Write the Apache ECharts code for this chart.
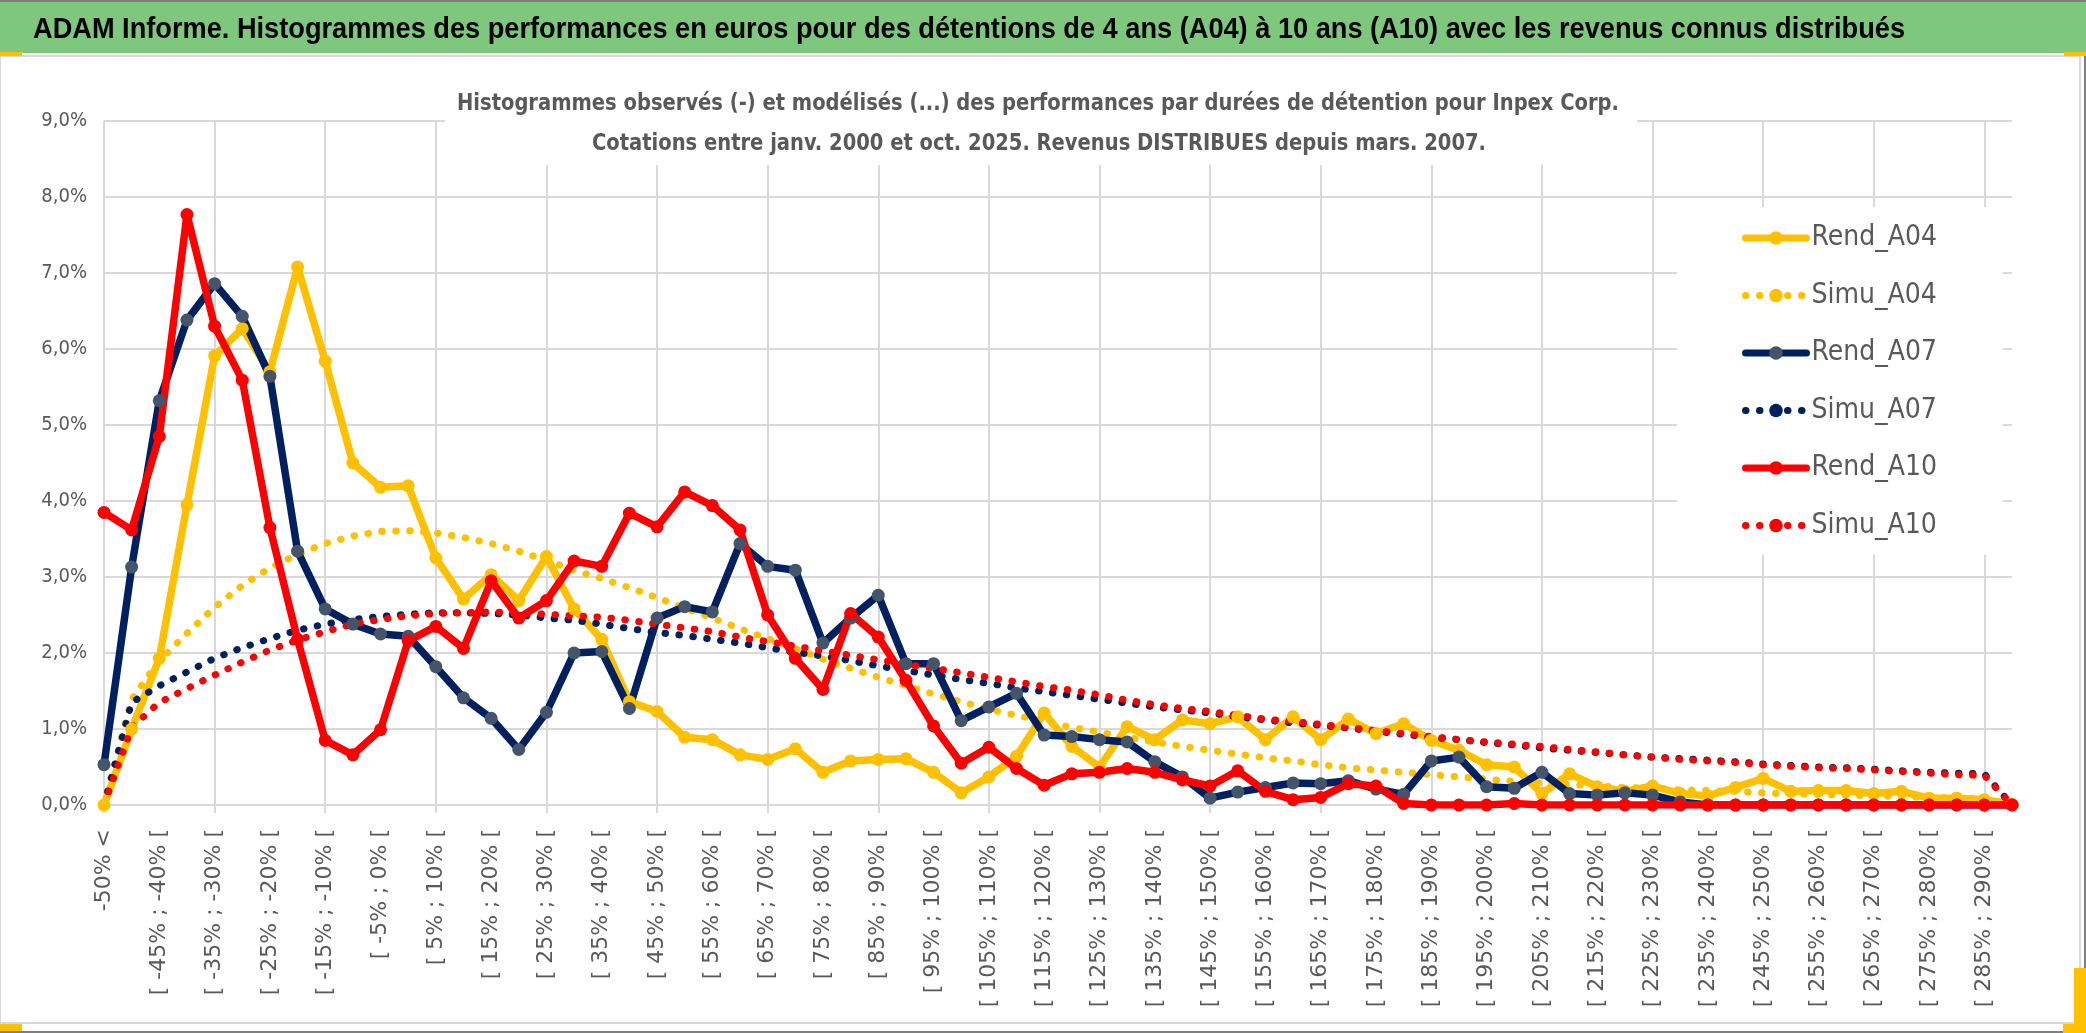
<!DOCTYPE html>
<html>
<head>
<meta charset="utf-8">
<script src="https://cdn.jsdelivr.net/npm/echarts@6/dist/echarts.min.js"></script>
<style>
html,body{margin:0;padding:0;background:#fff;}
#c{width:2086px;height:1033px;}
</style>
</head>
<body>
<div id="c"></div>
<script>
const titleText = "ADAM Informe. Histogrammes des performances en euros pour des détentions de 4 ans (A04) à 10 ans (A10) avec les revenus connus distribués";
const subtitle1 = "Histogrammes observés (-) et modélisés (...) des performances par durées de détention pour Inpex Corp.";
const subtitle2 = "Cotations entre janv. 2000 et oct. 2025. Revenus DISTRIBUES depuis mars. 2007.";

const categories = [
  "-50% <", "[ -50% ; -45% [", "[ -45% ; -40% [", "[ -40% ; -35% [", "[ -35% ; -30% [", "[ -30% ; -25% [",
  "[ -25% ; -20% [", "[ -20% ; -15% [", "[ -15% ; -10% [", "[ -10% ; -5% [", "[ -5% ; 0% [",
  "[ 0% ; 5% [", "[ 5% ; 10% [", "[ 10% ; 15% [", "[ 15% ; 20% [", "[ 20% ; 25% [", "[ 25% ; 30% [",
  "[ 30% ; 35% [", "[ 35% ; 40% [", "[ 40% ; 45% [", "[ 45% ; 50% [", "[ 50% ; 55% [", "[ 55% ; 60% [",
  "[ 60% ; 65% [", "[ 65% ; 70% [", "[ 70% ; 75% [", "[ 75% ; 80% [", "[ 80% ; 85% [", "[ 85% ; 90% [",
  "[ 90% ; 95% [", "[ 95% ; 100% [", "[ 100% ; 105% [", "[ 105% ; 110% [", "[ 110% ; 115% [", "[ 115% ; 120% [",
  "[ 120% ; 125% [", "[ 125% ; 130% [", "[ 130% ; 135% [", "[ 135% ; 140% [", "[ 140% ; 145% [", "[ 145% ; 150% [",
  "[ 150% ; 155% [", "[ 155% ; 160% [", "[ 160% ; 165% [", "[ 165% ; 170% [", "[ 170% ; 175% [", "[ 175% ; 180% [",
  "[ 180% ; 185% [", "[ 185% ; 190% [", "[ 190% ; 195% [", "[ 195% ; 200% [", "[ 200% ; 205% [", "[ 205% ; 210% [",
  "[ 210% ; 215% [", "[ 215% ; 220% [", "[ 220% ; 225% [", "[ 225% ; 230% [", "[ 230% ; 235% [", "[ 235% ; 240% [",
  "[ 240% ; 245% [", "[ 245% ; 250% [", "[ 250% ; 255% [", "[ 255% ; 260% [", "[ 260% ; 265% [", "[ 265% ; 270% [",
  "[ 270% ; 275% [", "[ 275% ; 280% [", "[ 280% ; 285% [", "[ 285% ; 290% [", "[ 290% ; 295% ["
];

// values in percent
const rendA04 = [
  0.00, 1.00, 1.93, 3.95, 5.91, 6.27, 5.70, 7.08, 5.84, 4.50,
  4.18, 4.20, 3.25, 2.71, 3.03, 2.69, 3.27, 2.58, 2.18, 1.36,
  1.23, 0.89, 0.86, 0.66, 0.60, 0.74, 0.43, 0.58, 0.60, 0.61,
  0.43, 0.16, 0.37, 0.64, 1.21, 0.77, 0.50, 1.03, 0.86, 1.12,
  1.07, 1.16, 0.86, 1.16, 0.86, 1.13, 0.94, 1.07, 0.85, 0.72,
  0.53, 0.50, 0.15, 0.41, 0.24, 0.18, 0.25, 0.15, 0.12, 0.23,
  0.35, 0.18, 0.19, 0.19, 0.15, 0.18, 0.09, 0.09, 0.07, 0.01
];
const simuA04 = [
  0.00, 1.39, 1.90, 2.26, 2.60, 2.89, 3.12, 3.30, 3.44, 3.54,
  3.60, 3.61, 3.58, 3.52, 3.44, 3.34, 3.22, 3.09, 2.98, 2.86,
  2.73, 2.59, 2.46, 2.32, 2.19, 2.06, 1.92, 1.80, 1.68, 1.57,
  1.46, 1.36, 1.26, 1.18, 1.10, 1.02, 0.96, 0.89, 0.83, 0.77,
  0.72, 0.67, 0.62, 0.58, 0.53, 0.49, 0.46, 0.43, 0.40, 0.37,
  0.34, 0.31, 0.29, 0.27, 0.25, 0.23, 0.22, 0.20, 0.19, 0.18,
  0.16, 0.15, 0.14, 0.13, 0.12, 0.11, 0.10, 0.09, 0.08, 0.00
];
const rendA07 = [
  0.53, 3.13, 5.32, 6.38, 6.86, 6.43, 5.64, 3.34, 2.58, 2.38,
  2.25, 2.22, 1.82, 1.41, 1.14, 0.73, 1.22, 2.00, 2.02, 1.27,
  2.46, 2.61, 2.54, 3.44, 3.14, 3.09, 2.13, 2.46, 2.76, 1.86,
  1.86, 1.11, 1.29, 1.47, 0.92, 0.90, 0.86, 0.83, 0.57, 0.37,
  0.09, 0.17, 0.23, 0.29, 0.28, 0.32, 0.21, 0.14, 0.58, 0.63,
  0.24, 0.22, 0.43, 0.15, 0.13, 0.16, 0.13, 0.04, 0.00, 0.00,
  0.00, 0.00, 0.00, 0.00, 0.00, 0.00, 0.00, 0.00, 0.00, 0.00
];
const simuA07 = [
  0.00, 1.35, 1.57, 1.75, 1.93, 2.07, 2.19, 2.30, 2.38, 2.44,
  2.48, 2.51, 2.53, 2.53, 2.52, 2.50, 2.46, 2.43, 2.38, 2.32,
  2.27, 2.23, 2.18, 2.13, 2.07, 2.01, 1.96, 1.90, 1.83, 1.77,
  1.71, 1.65, 1.60, 1.54, 1.49, 1.44, 1.39, 1.34, 1.29, 1.25,
  1.21, 1.16, 1.12, 1.08, 1.05, 1.01, 0.97, 0.93, 0.89, 0.86,
  0.82, 0.79, 0.75, 0.72, 0.69, 0.66, 0.63, 0.61, 0.59, 0.57,
  0.54, 0.52, 0.50, 0.49, 0.47, 0.45, 0.43, 0.42, 0.41, 0.00
];
const rendA10 = [
  3.85, 3.62, 4.85, 7.77, 6.30, 5.59, 3.65, 2.18, 0.85, 0.66,
  0.99, 2.16, 2.35, 2.06, 2.95, 2.46, 2.69, 3.21, 3.14, 3.84,
  3.66, 4.12, 3.94, 3.62, 2.50, 1.93, 1.52, 2.52, 2.21, 1.64,
  1.04, 0.55, 0.76, 0.48, 0.26, 0.41, 0.43, 0.48, 0.43, 0.33,
  0.25, 0.45, 0.18, 0.07, 0.10, 0.28, 0.25, 0.02, 0.00, 0.00,
  0.00, 0.02, 0.00, 0.00, 0.00, 0.00, 0.00, 0.00, 0.00, 0.00,
  0.00, 0.00, 0.00, 0.00, 0.00, 0.00, 0.00, 0.00, 0.00, 0.00
];
const simuA10 = [
  0.00, 1.02, 1.35, 1.53, 1.71, 1.88, 2.04, 2.17, 2.28, 2.38,
  2.44, 2.49, 2.52, 2.53, 2.54, 2.53, 2.51, 2.49, 2.47, 2.43,
  2.38, 2.33, 2.28, 2.21, 2.15, 2.09, 2.03, 1.97, 1.91, 1.85,
  1.80, 1.74, 1.68, 1.62, 1.56, 1.51, 1.45, 1.38, 1.32, 1.27,
  1.23, 1.18, 1.13, 1.10, 1.06, 1.02, 0.98, 0.94, 0.90, 0.86,
  0.83, 0.80, 0.77, 0.73, 0.70, 0.66, 0.63, 0.60, 0.58, 0.56,
  0.53, 0.51, 0.49, 0.48, 0.46, 0.44, 0.42, 0.40, 0.39, 0.00
];

const seriesNames = ["Rend_A04", "Simu_A04", "Rend_A07", "Simu_A07", "Rend_A10", "Simu_A10"];

const YELLOW = '#FFC000', NAVY = '#002060', RED = '#FF0000', NAVY_MK = '#44546A';
const GRID = '#d9d9d9', TXT = '#595959';
const NARROW = "'Liberation Sans Narrow', 'DejaVu Sans Condensed', 'Liberation Sans', sans-serif";
const SANS = "'Liberation Sans', Arial, sans-serif";

function measure(text, font) {
  const c = document.createElement('canvas').getContext('2d');
  c.font = font;
  return c.measureText(text).width;
}
const titleSize = 30;
const titleScale = 1872 / measure(titleText, 'bold ' + titleSize + 'px ' + SANS);
const subSize = 23;
const subScale = 1162 / measure(subtitle1, 'bold ' + subSize + 'px ' + NARROW);

function rend(name, data, color, markColor) {
  return {
    name, type: 'line', data,
    symbol: 'circle', symbolSize: 13, showSymbol: true, showAllSymbol: true,
    lineStyle: { color, width: 7.5, cap: 'round', join: 'round' },
    itemStyle: { color: markColor, borderWidth: 0 },
    emphasis: { disabled: true },
    z: 2
  };
}
function simu(name, data, color) {
  return {
    name, type: 'line', data,
    symbol: 'none', showSymbol: false,
    lineStyle: { color, width: 7, type: [0.5, 13.5], cap: 'round' },
    itemStyle: { color },
    emphasis: { disabled: true },
    z: 2
  };
}

const chart = echarts.init(document.getElementById('c'), null, { renderer: 'canvas' });
chart.setOption({
  animation: false,
  backgroundColor: '#fff',
  grid: { left: 104, right: 74, top: 121, bottom: 228, containLabel: false },
  xAxis: {
    type: 'category', data: categories, boundaryGap: false,
    axisLine: { show: true, lineStyle: { color: GRID, width: 2 } },
    axisTick: { show: true, interval: 3, length: 8, lineStyle: { color: GRID, width: 2 } },
    splitLine: { show: true, interval: 3, lineStyle: { color: GRID, width: 2 } },
    axisLabel: { interval: 1, rotate: 90, margin: 24, color: TXT, fontFamily: "'DejaVu Sans', sans-serif", fontSize: 22 }
  },
  yAxis: {
    type: 'value', min: 0, max: 9, interval: 1,
    axisLine: { show: false }, axisTick: { show: false },
    splitLine: { lineStyle: { color: GRID, width: 2 } },
    axisLabel: {
      margin: 17, color: TXT, fontFamily: NARROW, fontSize: 20,
      formatter: v => v.toFixed(1).replace('.', ',') + '%'
    }
  },
  legend: {
    data: seriesNames, orient: 'vertical', left: 1677, top: 207,
    backgroundColor: '#fff', padding: [16, 66, 14, 65],
    itemWidth: 61, itemHeight: 17, itemGap: 27.5,
    lineStyle: { width: 7 },
    textStyle: { fontFamily: NARROW, fontSize: 28, color: TXT, lineHeight: 30 },
    selectedMode: false
  },
  series: [
    rend('Rend_A04', rendA04, YELLOW, YELLOW),
    simu('Simu_A04', simuA04, YELLOW),
    rend('Rend_A07', rendA07, NAVY, NAVY_MK),
    simu('Simu_A07', simuA07, NAVY),
    rend('Rend_A10', rendA10, RED, RED),
    simu('Simu_A10', simuA10, RED)
  ],
  graphic: [
    { type: 'rect', z: 20, silent: true, shape: { x: 0, y: 0, width: 2086, height: 2 }, style: { fill: '#7f7f7f' } },
    { type: 'rect', z: 20, silent: true, shape: { x: 0, y: 2, width: 2086, height: 51 }, style: { fill: '#7ec87e' } },
    { type: 'rect', z: 20, silent: true, shape: { x: 0, y: 56, width: 2080, height: 967 }, style: { fill: 'none', stroke: GRID, lineWidth: 2 } },
    { type: 'rect', z: 20, silent: true, shape: { x: 0, y: 1031, width: 2086, height: 2 }, style: { fill: '#7f7f7f' } },
    { type: 'rect', z: 20, silent: true, shape: { x: 2084, y: 56, width: 2, height: 977 }, style: { fill: '#7f7f7f' } },
    { type: 'rect', z: 21, silent: true, shape: { x: 0, y: 52, width: 22, height: 4 }, style: { fill: YELLOW } },
    { type: 'rect', z: 21, silent: true, shape: { x: 2064, y: 52, width: 22, height: 4 }, style: { fill: YELLOW } },
    { type: 'rect', z: 21, silent: true, shape: { x: 0, y: 1024, width: 22, height: 7 }, style: { fill: YELLOW } },
    { type: 'rect', z: 21, silent: true, shape: { x: 2074, y: 968, width: 12, height: 65 }, style: { fill: YELLOW } },
    { type: 'rect', z: 21, silent: true, shape: { x: 2063, y: 1024, width: 23, height: 9 }, style: { fill: YELLOW } },
    {
      type: 'text', z: 22, silent: true, x: 33, y: 30, scaleX: titleScale,
      style: { text: titleText, x: 0, y: 0, fill: '#000', font: 'bold ' + titleSize + 'px ' + SANS, textAlign: 'left', textVerticalAlign: 'middle' }
    },
    { type: 'rect', z: 20, silent: true, shape: { x: 445, y: 70, width: 1192, height: 95 }, style: { fill: '#fff' } },
    {
      type: 'text', z: 22, silent: true, x: 1038, y: 104, scaleX: subScale,
      style: { text: subtitle1, x: 0, y: 0, fill: TXT, font: 'bold ' + subSize + 'px ' + NARROW, textAlign: 'center', textVerticalAlign: 'middle' }
    },
    {
      type: 'text', z: 22, silent: true, x: 1039, y: 144, scaleX: subScale,
      style: { text: subtitle2, x: 0, y: 0, fill: TXT, font: 'bold ' + subSize + 'px ' + NARROW, textAlign: 'center', textVerticalAlign: 'middle' }
    }
  ]
});
</script>
</body>
</html>
